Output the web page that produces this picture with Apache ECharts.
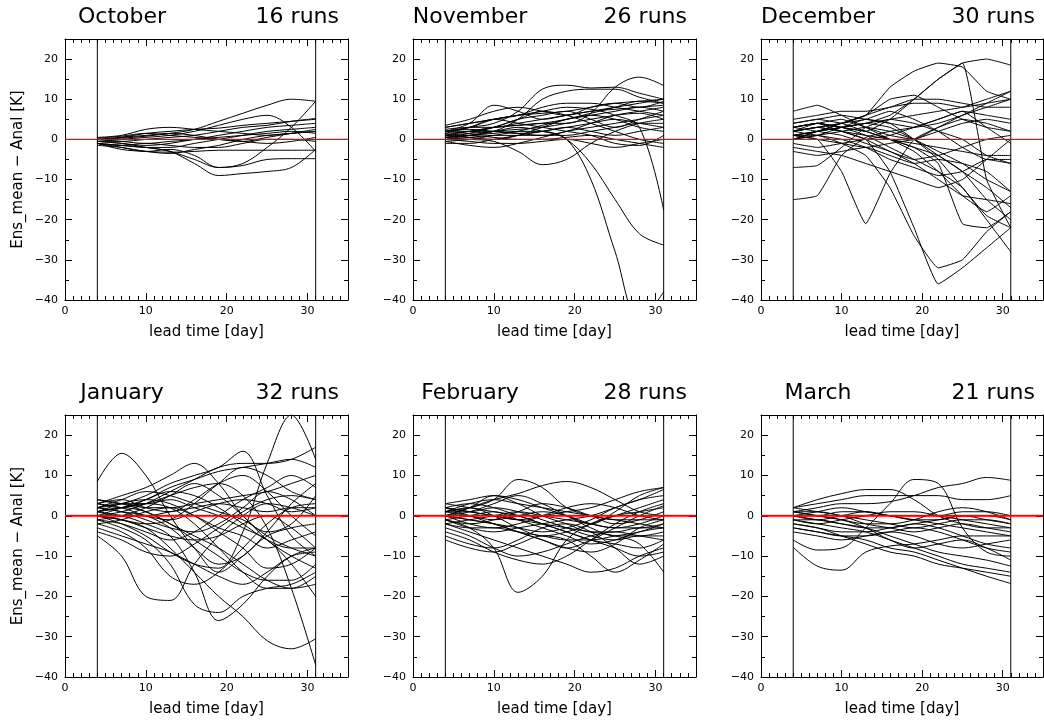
<!DOCTYPE html>
<html><head><meta charset="utf-8">
<script src="https://cdn.jsdelivr.net/npm/echarts@6/dist/echarts.min.js"></script>
<style>html,body{margin:0;padding:0;background:#fff}#c{width:1044px;height:724px}</style>
</head><body><div id="c"></div>
<script>
const DAYS = [4, 7, 10, 13, 16, 19, 22, 25, 28, 31];
const MONTHS = ['October', 'November', 'December', 'January', 'February', 'March'];
const RUNS = ['16 runs', '26 runs', '30 runs', '32 runs', '28 runs', '21 runs'];
const X_LABEL = 'lead time [day]';
const Y_LABEL = 'Ens_mean \u2212 Anal [K]';
const FORECAST_START = 4;
const FORECAST_END = 31;
const X_MIN = 0, X_MAX = 35, Y_MIN = -40, Y_MAX = 25;

const OCT = [
  [0, 0.3, 0.8, 1.5, 2.5, 4.5, 6.5, 8.5, 10, 9.5],
  [-0.5, 0, 0.5, 1, 2, 3.5, 5, 6, 3, -3],
  [-1, -1.5, -2, -3, -5, -7, -6, -2, 3, 9.5],
  [-0.5, -1, -2, -3, -6, -9, -8.5, -8, -7, -2.5],
  [-1, -2, -3, -2.5, -4, -7, -6.5, -5, -4.8, -4.8],
  [0.5, 1, 2.5, 3, 2.5, 2, 1.5, 1, 1.5, 2],
  [0, 0.5, 1.5, 2, 2.5, 2.8, 3.5, 4, 4.5, 5],
  [-0.5, -0.5, 0, 0.5, 1, 2, 3, 3.5, 4.5, 5.2],
  [0, -0.5, -1, -0.5, 0, 1, 2, 3, 3.5, 4],
  [-1, -1.5, -2, -2, -1, 0, 1, 2, 2.5, 3],
  [-1.5, -2, -3, -3.5, -2.5, -1.5, 0, 1, 1.5, 2],
  [-1, -2.5, -3, -3.2, -3, -2.7, -2.7, -2.7, -2.7, -2.7],
  [0, 0.5, 1, 1.5, 1, 0, -0.5, 0.5, 1.5, 2.5],
  [-0.5, -1, -1.5, -1, 0, 0.5, 1, 1.5, 2, 1.5],
  [0.3, 0.8, 1.5, 1, 0.5, 0, -0.5, -1, -0.5, 0.5],
  [-1, -1.5, -1, -1.5, -2, -2, -1, 0, 0, -0.5]
];
const NOV = [
  [1, 1.5, 2, 3, 2, 0, -10, -28, -45, -38],
  [0.5, 1, 1.5, 2, 2, 0, -6, -15, -23.5, -26.3],
  [2, 3, 5, 6, 7, 8, 7.5, 6, 3, -17.6],
  [1.5, 2, 3, 3.5, 4, 4, 6.5, 13, 15.5, 13.4],
  [2, 3, 4, 7, 12.5, 13.5, 12.8, 13, 11.5, 10],
  [0.5, 1, 2, 5, 10, 12, 12.5, 12.5, 10.5, 9],
  [0.5, 0, -0.5, -3, -6.3, -5, -1, 2, 4, 5],
  [2, 4, 8.5, 7, 5, 6, 7, 8, 9, 10],
  [3.5, 5, 7, 8, 7, 6, 8, 9, 8, 9.5],
  [3, 4, 5, 6, 8, 9, 9, 8, 7, 6],
  [2.5, 3, 3, 4, 5, 6, 7, 7.5, 8, 8.5],
  [1, 2, 3, 3.5, 4, 5, 6, 7, 8, 7],
  [0, 1, 2, 2.5, 3, 4, 5, 6, 6.5, 5],
  [-1, -1, 0, 1, 2, 3, 4, 5, 4, 3],
  [-0.5, -1.5, -2, -1, 0.5, 2, 3, 4, 5, 6],
  [0, 0.5, 1, 1, 1, 1, 2, 3, 4, 4],
  [1, 1, 0.5, 0, 0, 0.5, 1, 0, -1, -2],
  [0, -0.5, -1, -1, -0.5, 0, -1, -2, -1, 0],
  [2, 2.5, 2, 1.5, 2, 3, 2, 1, 2, 3],
  [1.5, 3, 5, 4, 3, 2, 1, -1, -1.5, 1],
  [0.5, 1.5, 3, 5, 7, 6, 4, 2, 0, -1],
  [3, 4, 5, 6, 6.5, 7, 8, 9, 9.5, 10],
  [1, 0.5, 0, 1, 3, 5, 6, 5, 3, 2],
  [2, 2, 3, 5, 6, 7, 5, 3, 5, 7],
  [-0.5, 0, 1, 2, 3.5, 5, 6.5, 8, 9.5, 9],
  [1, 2, 2, 1.5, 1, 2, 4, 6, 7, 8]
];
const DEC = [
  [-15, -14, -4, 0.5, 2, 3, 5, 7, 6, 5],
  [1, 0, -8, -21, -8.5, 0, 3, 5, 4, 2],
  [2, 3, 4, 6, 13, 17, 19, 18, 12, 10],
  [1, 2, 3, 4, 6, 10, 15, 19, 20, 18.5],
  [2, 3, 2, 0, -8, -22, -36, -32, -27, -22],
  [1, 1, -1, -4, -12, -24, -32, -30, -23, -18],
  [3, 4, 3, 1, -2, -5, -8, -12, -20, -28],
  [3, 4, 3, 2, 5, 10, 15, 19, -10, -22],
  [7, 8.5, 6, 3, 0, -3, -8, -14, -18, -14],
  [5, 6, 7, 7, 8, 10, 10, 9, 8, 8],
  [0, 2, 4, 6, 10, 11, 8, 5, 3, 2],
  [-7, -6.5, -2, 3, 5, 4, 2, 0, -4, -6],
  [-2, -3, -4, -6, -8, -10, -12, -10, -5, 0],
  [-3, -4, -3, -2, -4, -6, -5, -6, -8, -13],
  [4, 5, 4, 2, 0, -2, -4, -8, -15, -20],
  [2, 3, 2, 1, 0, -2, -6, -21, -22, -18],
  [3, 4, 5, 3, 1, 0, 3, 6, 8, 10],
  [1, 2, 3, 4, 5, 6, 7, 8, 10, 12],
  [0, 1, 2, 3, 2, 0, -3, -6, -10, -13],
  [2, 4, 2, 0, -3, -5, -4, -2, 0, 1],
  [1, 0, -1, -2, -1, 0, 2, 4, 5, 4],
  [3, 2, 1, -1, -3, -6, -10, -14, -15, -16],
  [2, 3, 4, 5, 7, 5, 2, -2, -5, -5],
  [0, 2, 3, 4, 3, 0, -4, -8, -12, -17],
  [4, 5, 6, 5, 4, 3, 4, 6, 9, 12],
  [-1, -2, -1, 0, 1, 3, 5, 7, 3, -1],
  [2, 1, 0, -2, -5, -7, -9, -8, -5, -6],
  [1, 2, 4, 6, 8, 9, 9, 8, 9, 10],
  [3, 4, 3, 2, 0, -1, -2, -3, -4, -4],
  [0, 1, 3, 5, 4, 0, -5, -12, -19, -22]
];
const JAN = [
  [0, -2, -5, -9, -12, -13, -4, 13, 25, 14],
  [8.5, 15.5, 10, 0, -8, -14, -10, -5, -3, -2],
  [-5, -10, -20, -21, -12, -5, 0, 3, 2, 0],
  [1, 2, 3, 5, 7, 8, 5, -3, -18, -37],
  [0, -1, -3, -8, -14, -20, -25, -31, -33, -30.5],
  [1, 0, -2, -5, -14, -26, -22, -15, -10, -8],
  [-1, -3, -6, -12, -22, -24, -20, -18, -17, -14],
  [2, 3, 5, 8, 10, 12, 16, 5, -5, -10],
  [3, 5, 7, 10, 13, 8, 0, -5, -8, -10],
  [0, 1, 3, 6, 9, 12, 13, 13, 14, 17],
  [4, 3, 1, -2, -5, -8, -12, -16, -18, -15],
  [2, 1, 0, -3, -8, -12, -10, -4, 3, 8],
  [3, 4, 2, 1, 4, 8, 10, 6, 0, -5],
  [-2, -4, -8, -15, -17, -14, -8, -2, 2, 3],
  [1, 3, 4, 3, 0, -4, -8, -13, -12, -8],
  [2, 1, -1, -3, -4, -2, 2, 6, 4, 0],
  [-1, 0, 2, 5, 8, 5, 0, -6, -10, -13],
  [3, 2, 0, -1, 1, 3, 4, 3, 1, 2],
  [0, 2, 4, 6, 5, 2, -2, -6, -8, -8],
  [1, 0, 0, 1, 2, 3, 2, 1, 2, 2],
  [-3, -5, -7, -9, -12, -15, -17, -14, -10, -9],
  [2, 4, 6, 5, 3, 1, -1, -4, -2, 5],
  [0, -1, -2, -1, 3, 8, 12, 10, 6, 4],
  [1, 2, 1, -2, -6, -10, -14, -16, -16, -12],
  [3, 2, 4, 7, 9, 11, 12, 13, 14, 12],
  [-2, -1, 1, 2, 0, -3, -5, -8, -6, -4],
  [2, 3, 2, 2, 3, 4, 5, 6, 8, 10],
  [-1, -2, -4, -6, -4, 0, 4, 7, 10, 7],
  [1, 2, 3, 2, -2, -8, -14, -18, -18, -17],
  [4, 3, 3, 4, 2, 0, -3, -6, -12, -20],
  [0, -1, -3, -5, -6, -5, -2, 0, -3, -8],
  [-4, -6, -9, -10, -7, -3, 1, 4, 5, 4]
];
const FEB = [
  [-1, -3, -8, -19, -15, -6, -2, 0, 1, 2],
  [1, 2, 4, 9, 7, 2, 0, -1, -2, -3],
  [0, 2, 4, 5.5, 7.5, 8.5, 7, 4, 1, 0],
  [2, 1, 0, -1, -2, -3, -4, -5, -7, -14],
  [-2, -4, -6, -8, -10, -12, -14, -13, -10, -8],
  [3, 4, 5, 4, 2, 0, -2, 1, 5, 7],
  [-6, -8, -9, -7, -5, -6, -10, -14, -11, -7],
  [0, -1, -2, -3, -4, -3, -1, 2, 4, 6.5],
  [1, 0, -1, 0, 1, 0, -2, -3, -2, 0],
  [2, 3, 2, 0, -2, -4, -6, -8, -10, -9],
  [-1, -2, -1, 1, 3, 2, 0, -2, -1, 1],
  [0, 1, 3, 5, 3, 0, -3, -5, -5, -4],
  [-3, -5, -8, -10, -9, -7, -5, -4, -5, -6],
  [1, 2, 0, -3, -5, -4, -2, 0, 2, 4],
  [-2, -1, 0, 1, 0, -1, -2, -3, -3, -2],
  [2, 0, -2, -4, -6, -8, -6, -3, 0, 2.5],
  [0, 2, 5, 3, 0, -2, -4, -4, -3, -3],
  [-4, -6, -9, -11, -12, -10, -6, -2, 1, 3],
  [1, 1, 2, 1, -1, -3, -5, -6, -5, -5],
  [-1, -3, -4, -3, -2, -1, 0, 2, 4, 5],
  [3, 2, 1, 0, -2, -4, -6, -7, -8, -6],
  [0, -2, -3, -2, 0, 2, 3, 2, 0, -1],
  [-2, -3, -3, -4, -5, -6, -6, -5, -4, -2],
  [1, 3, 4, 3, 2, 1, 0, -1, -1, -1],
  [-5, -7, -8, -6, -3, -2, -4, -8, -12, -10],
  [2, 1, 0, -1, 0, 1, 2, 4, 6, 7],
  [-1, 0, 1, -1, -3, -5, -7, -6, -4, -3],
  [0, -1, -2, -4, -6, -8, -9, -7, -3, -1]
];
const MAR = [
  [-7.8, -12.5, -13.5, -9, -7.5, -7, -6, -5, -5, -5],
  [-6, -8.5, -8, -3, 3, 9, 8, -3, -9, -10],
  [1, 2, 3, 3, 3.5, 5, 7, 8, 9.5, 8.8],
  [2, 4, 5.5, 6.5, 6.5, 4, 0, -2, -3, -3],
  [2, 3, 4, 5, 5, 5, 5, 4, 4, 5],
  [-3, -4, -5, -6, -8, -9, -11, -13, -15, -16.8],
  [-2, -3, -5, -7, -9, -10, -12, -13, -14, -15],
  [-1, -2, -3, -4, -6, -8, -10, -12, -13, -14],
  [0, -1, -2, -3, -5, -7, -9, -10, -11, -12.5],
  [1, 0, -1, -3, -6, -8, -7, -6, -8, -11],
  [-3, -4, -5, -5, -4, -3, -4, -6, -8, -9],
  [1, 1, 0, -1, -2, -3, -2, -1, -1, -2],
  [0, 0, 1, 1, 0, 0, 0, 1, 1, 0],
  [-1, -2, -1, 0, 1, 1, 0, -1, -2, -3],
  [2, 1, 0, -2, -3, -4, -3, -2, -3, -4],
  [-2, -3, -4, -4, -3, -2, -1, 0, -1, -2],
  [0, 1, 2, 1, 0, -1, -2, -3, -4, -5],
  [-4, -5, -6, -5, -4, -5, -7, -8, -7, -6],
  [1, 0, -1, -2, -2, -1, 1, 2, 1, -1],
  [-1, -1, -2, -3, -3, -2, -3, -5, -7, -8],
  [0, -1, 0, 1, 0, -1, -1, 0, 0, -1]
];
const PANELS = [OCT, NOV, DEC, JAN, FEB, MAR];

// layout
const GL = [65, 413, 761], GW = [283, 283, 282];
const GT = [39, 415], GH = [261, 262];
const FONT = "'DejaVu Sans', sans-serif";
const SMOOTH = [0.35, 0.35, 0.12, 0.35, 0.35, 0.35];
const RED_W = [1.2, 1.2, 1.2, 2, 2, 2];

const grids = [], xAxes = [], yAxes = [], series = [], graphics = [];
const blk = { color: '#000', width: 1 };
function fmtY(v) { return v < 0 ? '\u2212' + Math.abs(v) : String(v); }

for (let p = 0; p < 6; p++) {
  const col = p % 3, row = Math.floor(p / 3);
  grids.push({ left: GL[col], top: GT[row], width: GW[col], height: GH[row], containLabel: false });
  const xBase = { gridIndex: p, type: 'value', min: X_MIN, max: X_MAX, splitLine: { show: false } };
  xAxes.push(Object.assign({}, xBase, {
    position: 'bottom', interval: 10,
    axisLine: { show: true, onZero: false, lineStyle: blk },
    axisTick: { show: true, inside: true, length: 7, lineStyle: blk },
    axisLabel: { show: true, showMaxLabel: false, margin: 6, fontSize: 11, color: '#000', fontFamily: FONT },
    name: X_LABEL, nameLocation: 'middle', nameGap: 25,
    nameTextStyle: { fontSize: 15, color: '#000', fontFamily: FONT }
  }));
  xAxes.push(Object.assign({}, xBase, {
    position: 'top', interval: 10,
    axisLine: { show: true, onZero: false, lineStyle: blk },
    axisTick: { show: true, inside: true, length: 7, lineStyle: blk },
    axisLabel: { show: false }
  }));
  xAxes.push(Object.assign({}, xBase, {
    position: 'bottom', interval: 1,
    axisLine: { show: false, onZero: false },
    axisTick: { show: true, inside: true, length: 4, lineStyle: blk },
    axisLabel: { show: false }
  }));
  xAxes.push(Object.assign({}, xBase, {
    position: 'top', interval: 1,
    axisLine: { show: false, onZero: false },
    axisTick: { show: true, inside: true, length: 4, lineStyle: blk },
    axisLabel: { show: false }
  }));
  const yBase = { gridIndex: p, type: 'value', min: Y_MIN, max: Y_MAX, splitLine: { show: false } };
  yAxes.push(Object.assign({}, yBase, {
    position: 'left', interval: 10,
    axisLine: { show: true, onZero: false, lineStyle: blk },
    axisTick: { show: true, inside: true, length: 7, lineStyle: blk },
    axisLabel: { show: true, showMaxLabel: false, margin: 7, fontSize: 11, color: '#000', fontFamily: FONT, formatter: fmtY }
  }));
  yAxes.push(Object.assign({}, yBase, {
    position: 'right', interval: 10,
    axisLine: { show: true, onZero: false, lineStyle: blk },
    axisTick: { show: true, inside: true, length: 7, lineStyle: blk },
    axisLabel: { show: false }
  }));
  yAxes.push(Object.assign({}, yBase, {
    position: 'left', interval: 5,
    axisLine: { show: false, onZero: false },
    axisTick: { show: true, inside: true, length: 4, lineStyle: blk },
    axisLabel: { show: false }
  }));
  yAxes.push(Object.assign({}, yBase, {
    position: 'right', interval: 5,
    axisLine: { show: false, onZero: false },
    axisTick: { show: true, inside: true, length: 4, lineStyle: blk },
    axisLabel: { show: false }
  }));

  PANELS[p].forEach((vals) => {
    series.push({
      type: 'line', xAxisIndex: 4 * p, yAxisIndex: 4 * p,
      data: DAYS.map((d, i) => [d, vals[i]]),
      symbol: 'none', showSymbol: false, smooth: SMOOTH[p], clip: true, silent: true,
      lineStyle: { color: '#000', width: 1 }, z: 2
    });
  });
  // reference lines: forecast window edges and zero line
  [FORECAST_START, FORECAST_END].forEach((d) => {
    series.push({
      type: 'line', xAxisIndex: 4 * p, yAxisIndex: 4 * p,
      data: [[d, Y_MIN], [d, Y_MAX]], symbol: 'none', silent: true,
      lineStyle: { color: '#000', width: 1 }, z: 8
    });
  });
  series.push({
    type: 'line', xAxisIndex: 4 * p, yAxisIndex: 4 * p,
    data: [[X_MIN, 0], [X_MAX, 0]], symbol: 'none', silent: true,
    lineStyle: { color: '#ff0000', width: RED_W[p] }, z: 10
  });

  graphics.push({
    type: 'text', x: GL[col] + 57, y: GT[row] - 22,
    style: { text: MONTHS[p], fontSize: 22, fontFamily: FONT, fill: '#000', align: 'center', verticalAlign: 'middle' }
  });
  graphics.push({
    type: 'text', x: GL[col] + 274, y: GT[row] - 22,
    style: { text: RUNS[p], fontSize: 22, fontFamily: FONT, fill: '#000', align: 'right', verticalAlign: 'middle' }
  });
  if (col === 0) {
    graphics.push({
      type: 'text', x: 18, y: GT[row] + GH[row] / 2, rotation: Math.PI / 2,
      style: { text: Y_LABEL, fontSize: 15, fontFamily: FONT, fill: '#000', align: 'center', verticalAlign: 'middle' }
    });
  }
}

const chart = echarts.init(document.getElementById('c'), null, { renderer: 'canvas' });
chart.setOption({
  animation: false,
  backgroundColor: '#fff',
  grid: grids, xAxis: xAxes, yAxis: yAxes, series: series, graphic: graphics
});
</script></body></html>
